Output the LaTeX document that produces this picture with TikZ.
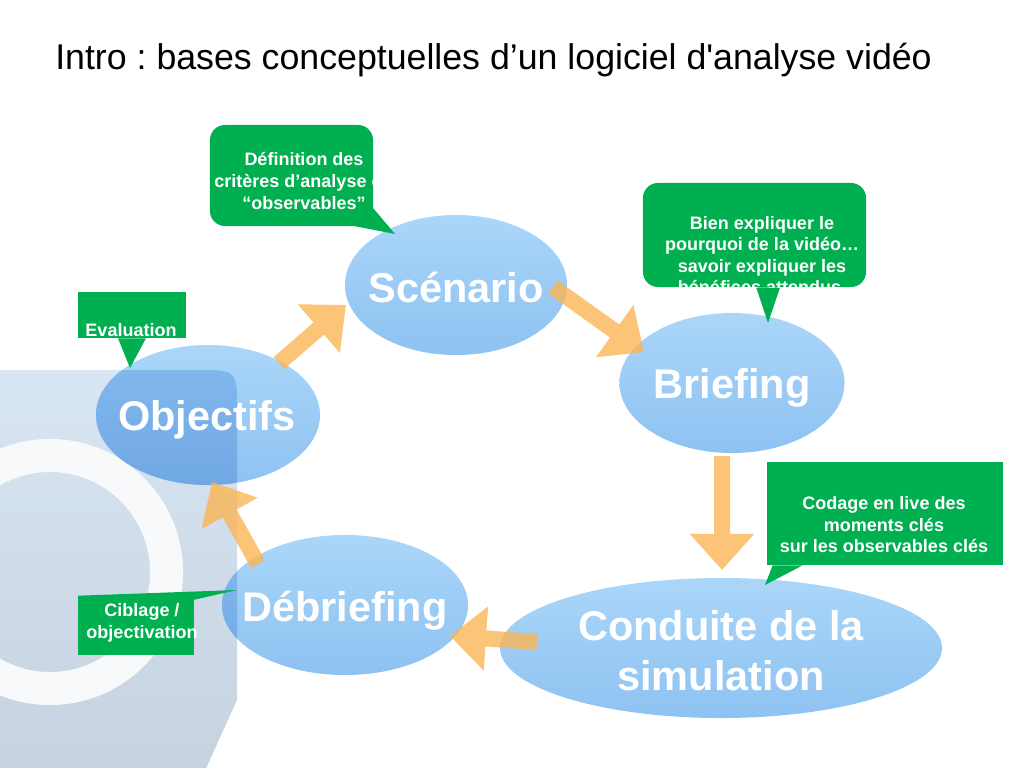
\documentclass[tikz,border=0pt]{standalone}
\usepackage{fontspec}
\setmainfont{Liberation Sans}[Ligatures=TeXOff]
\usepackage{xcolor}
\usepackage{tikz}
\usetikzlibrary{shapes.geometric,arrows.meta}
\definecolor{cgreen}{RGB}{0,176,80}
\definecolor{elltop}{RGB}{170,214,249}
\definecolor{ellbot}{RGB}{142,194,241}
\definecolor{elldarktop}{RGB}{132,186,238}
\definecolor{elldarkbot}{RGB}{112,168,228}
\definecolor{panelt}{RGB}{216,229,243}
\definecolor{panelb}{RGB}{198,210,223}
\definecolor{ringwhite}{RGB}{247,249,251}
\definecolor{flowor}{RGB}{251,181,84}
\frenchspacing

\begin{document}
\begin{tikzpicture}[
    x=0.025cm, y=-0.025cm,
    stage/.style={ellipse, top color=elltop, bottom color=ellbot, minimum height=3.5cm, inner sep=0pt},
    stagelabel/.style={text=white, font=\bfseries\fontsize{29.5}{35.6}\selectfont, align=center, inner sep=0pt},
    bubble/.style={rectangle, fill=cgreen, inner sep=0pt},
    bubbletail/.style={fill=cgreen},
    bubbletext/.style={text=white, font=\bfseries\fontsize{12.8}{15.3}\selectfont, align=center, inner sep=0pt},
    flow/.style={line width=0.4cm, flowor, -{Triangle[length=0.9cm, width=1.55cm]}}
]
\useasboundingbox (0,0) rectangle (1024,768);

% Title
\node[anchor=base west, inner sep=0pt, font=\fontsize{25.4}{30}\selectfont] (title) at (55,70)
    {Intro : bases conceptuelles d’un logiciel d'analyse vidéo};

% Background panel
\shade[top color=panelt, bottom color=panelb]
    (-20,370) -- (197,370) .. controls (237,370) .. (237,410) -- (237,700) -- (203,775) -- (-20,775) -- cycle;
\fill[ringwhite, even odd rule] (50,572) circle [radius=3.325cm] (50,572) circle [radius=2.5cm];

% Stages
\node[stage, minimum width=5.55cm] (scen) at (456,285) {};
\node[stage, minimum width=5.625cm] (brief) at (732,383) {};
\node[stage, minimum width=11.05cm] (cond) at (721,648) {};
\node[stage, minimum width=6.15cm] (debrief) at (345,605) {};
\node[stage, minimum width=5.6cm] (obj) at (208,415) {};

\begin{scope}
    \clip (-20,370) -- (197,370) .. controls (237,370) .. (237,410) -- (237,700) -- (203,775) -- (-20,775) -- cycle;
    \shade[top color=elldarktop, bottom color=elldarkbot] (obj.center) ellipse [x radius=2.8cm, y radius=1.75cm];
    \shade[top color=elldarktop, bottom color=elldarkbot] (debrief.center) ellipse [x radius=3.075cm, y radius=1.75cm];
\end{scope}

% Arrows
\coordinate (a1s) at (279,363); \coordinate (a1e) at (346,305);
\coordinate (a2s) at (553,287); \coordinate (a2e) at (644,352);
\coordinate (a3s) at (722,456); \coordinate (a3e) at (722,570);
\coordinate (a4s) at (537,642); \coordinate (a4e) at (450,636);
\coordinate (a5s) at (258,564); \coordinate (a5e) at (212,482);

\begin{scope}[transparency group, opacity=0.8]
\foreach \s/\e in {a1s/a1e, a2s/a2e, a3s/a3e, a4s/a4e, a5s/a5e} {
    \draw[flow] (\s) -- (\e);
}
\end{scope}

% Stage labels
\node[stagelabel, anchor=base] (scenlbl) at (456,302) {Scénario};
\node[stagelabel, anchor=base] (brieflbl) at (732,398) {Briefing};
\node[stagelabel, anchor=base] (objlbl) at (207,430) {Objectifs};
\node[stagelabel, anchor=base] (debrieflbl) at (345,621) {Débriefing};
\node[stagelabel] (condlbl) at (721,651) {Conduite de la\\simulation};

% Callouts
\node[bubble, rounded corners=0.375cm, minimum width=4.075cm, minimum height=2.525cm] (defbox) at (291.5,175.5) {};
\coordinate (deftip) at (395,234);
\fill[bubbletail] ([xshift=-0.45cm]defbox.south east) -- (deftip) -- ([yshift=0.45cm]defbox.south east) -- cycle;
\begin{scope}
    \clip[rounded corners=0.375cm] (defbox.south west) rectangle (defbox.north east);
    \node[bubbletext] (deftxt) at (304,181) {Définition des\\critères d’analyse ou\\“observables”};
\end{scope}

\node[bubble, rounded corners=0.375cm, minimum width=5.575cm, minimum height=2.6cm] (bienbox) at (754.5,235) {};
\coordinate (bientip) at (768,323);
\fill[bubbletail] ([xshift=0.04cm]bienbox.south) -- (bientip) -- ([xshift=0.64cm]bienbox.south) -- cycle;
\begin{scope}
    \clip[rounded corners=0.375cm] (bienbox.south west) rectangle (bienbox.north east);
    \node[bubbletext] (bientxt) at (762,255) {Bien expliquer le\\pourquoi de la vidéo…\\savoir expliquer les\\bénéfices attendus.};
\end{scope}

\node[bubble, minimum width=2.7cm, minimum height=1.15cm] (evbox) at (132,315) {};
\coordinate (evtip) at (130,368);
\fill[bubbletail] ([xshift=-0.35cm]evbox.south) -- (evtip) -- ([xshift=0.35cm]evbox.south) -- cycle;
\node[bubbletext] (evtxt) at (131,330) {Evaluation};

\node[bubble, minimum width=5.9cm, minimum height=2.575cm] (codbox) at (885,513.5) {};
\coordinate (codtip) at (765,585);
\fill[bubbletail] ([xshift=0.15cm]codbox.south west) -- (codtip) -- ([xshift=0.9cm]codbox.south west) -- cycle;
\node[bubbletext] (codtxt) at (884,525) {Codage en live des\\moments clés\\sur les observables clés};

\node[bubble, minimum width=2.9cm, minimum height=1.475cm] (cibbox) at (136,625.5) {};
\coordinate (cibtip) at (237,590);
\fill[bubbletail] (cibbox.north west) -- (cibtip) -- ([yshift=-0.1cm]cibbox.north east) -- cycle;
\node[bubbletext] (cibtxt) at (142,623) {Ciblage /\\objectivation};

\end{tikzpicture}
\end{document}
